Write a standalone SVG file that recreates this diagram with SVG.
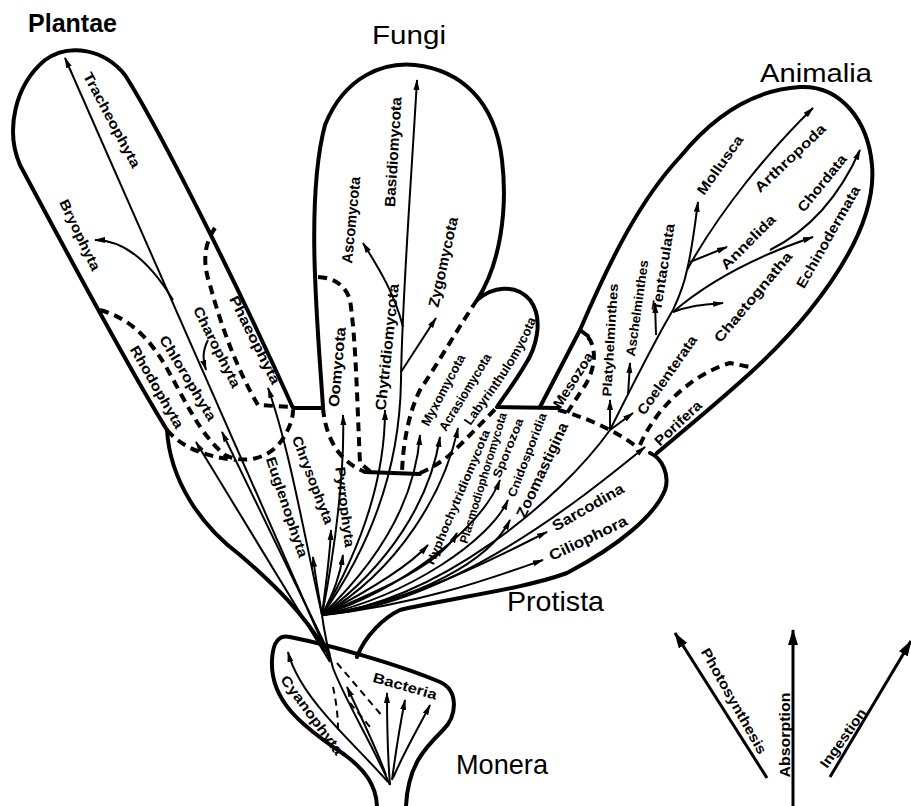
<svg xmlns="http://www.w3.org/2000/svg" width="911" height="806" viewBox="0 0 911 806">
<defs>
<marker id="ah" markerUnits="userSpaceOnUse" markerWidth="11" markerHeight="7" refX="10" refY="3.5" orient="auto">
<path d="M0,0.5 L11,3.5 L0,6.5 z" fill="#000"/>
</marker>
<marker id="ahL" markerUnits="userSpaceOnUse" markerWidth="16" markerHeight="10" refX="15" refY="5" orient="auto">
<path d="M0,0 L16,5 L0,10 z" fill="#000"/>
</marker>
<path id="labyPath" d="M461,432 C485,395 515,365 536,308"/>
<style>
.out{fill:none;stroke:#000;stroke-width:4;stroke-linejoin:round;stroke-linecap:round}
.dash{fill:none;stroke:#000;stroke-width:4;stroke-dasharray:9 6}
.mdash{fill:none;stroke:#000;stroke-width:2;stroke-dasharray:7 5}
.br{fill:none;stroke:#000;stroke-width:2;marker-end:url(#ah)}
.ln{fill:none;stroke:#000;stroke-width:2}
.lg{fill:none;stroke:#000;stroke-width:3;marker-end:url(#ahL)}
.title{font-family:"Liberation Sans",Arial,sans-serif;fill:#000}
.lab{font-family:"Liberation Sans",Arial,sans-serif;font-weight:bold;fill:#000;text-anchor:middle}
</style>
</defs>
<rect width="911" height="806" fill="#fff"/>

<g id="titles">
<text class="title" x="28" y="32" font-size="26" font-weight="bold" textLength="89" lengthAdjust="spacingAndGlyphs">Plantae</text>
<text class="title" x="372" y="44" font-size="26" textLength="74" lengthAdjust="spacingAndGlyphs">Fungi</text>
<text class="title" x="760" y="82" font-size="26" textLength="112" lengthAdjust="spacingAndGlyphs">Animalia</text>
<text class="title" x="507" y="611" font-size="28" textLength="97" lengthAdjust="spacingAndGlyphs">Protista</text>
<text class="title" x="456" y="774" font-size="28" textLength="92" lengthAdjust="spacingAndGlyphs">Monera</text>
</g>

<g id="plantae">
<path class="out" d="M167,430 C130,370 60,240 20,165 C5,130 15,85 45,60 C70,42 105,50 125,75 C160,130 240,290 293,408 L323,408"/>
<path class="dash" d="M215,228 C203,245 203,265 210,285 C222,330 240,375 258,405 L292,407"/>
<path class="dash" d="M100,310 C130,318 150,340 165,365 C185,400 200,435 225,455 C245,465 270,458 282,440 C290,428 293,418 293,410"/>
<path class="dash" d="M167,430 C180,445 200,456 235,460"/>
</g>

<g id="fungi">
<path class="out" d="M323,407 C318,330 305,200 325,125 C345,75 385,62 415,65 C460,70 495,100 502,160 C508,210 500,265 477,300 C492,287 515,283 530,300 C545,320 535,350 525,365 C515,382 505,395 497,407 L558,408"/>
<path class="out" d="M365,472 L420,474"/>
<path class="dash" d="M323,408 C326,440 340,462 365,472"/>
<path class="dash" d="M420,473 C432,468 445,460 455,450 C470,435 485,420 497,407"/>
<path class="dash" d="M318,277 C335,278 345,285 350,300 C356,340 357,400 360,463 L372,473"/>
<path class="dash" d="M477,300 C460,325 440,360 420,390 C410,410 403,440 402,473"/>
</g>

<g id="animalia">
<path class="out" d="M540,407 L580,330 C610,260 640,200 680,157 C710,120 750,90 800,87 C840,85 868,120 872,165 C876,210 850,260 810,310 C770,360 720,400 657,453"/>
<path class="out" d="M580,330 L588,336"/>
<path class="dash" d="M588,337 C598,350 595,372 582,390 L567,413"/>
<path class="dash" d="M558,410 C580,415 615,430 637,447"/>
<path class="dash" d="M640,445 C655,410 690,375 730,363 L750,367"/>
</g>

<g id="protista">
<path class="out" d="M167,430 C170,480 200,525 240,555 C275,585 305,615 325,650"/>
<path class="out" d="M650,453 C662,458 670,475 665,490 C655,515 620,545 567,573 C520,590 450,598 400,610 C385,617 365,635 357,657"/>
</g>

<g id="monera">
<path class="out" d="M377,806 C376,785 365,770 345,755 C300,725 270,700 272,660 C273,640 280,635 290,637 C330,645 400,665 440,682 C458,690 458,715 443,730 C425,748 408,765 406,806"/>
<path class="mdash" d="M337,663 L383,717"/>
<path class="mdash" d="M333,687 C336,700 338,715 338,730"/>
<path class="mdash" d="M350,703 L370,727"/>
</g>

<g id="connectors">
<path class="ln" d="M390,785 C370,740 345,700 333,668 C328,650 324,630 322,615"/>
<path class="br" d="M388,782 C360,750 320,715 300,680 C293,668 290,660 288,652"/>
<path class="br" d="M390,785 C388,760 387,720 387,693"/>
<path class="br" d="M392,780 C396,750 400,725 405,700"/>
<path class="br" d="M393,778 C405,750 420,725 430,705"/>
<path class="br" d="M386,775 C375,745 360,715 347,687"/>
<path class="br" d="M330,660 L65,58"/>
<path class="br" d="M173,300 C150,262 125,240 95,240"/>
<path class="br" d="M330,662 L196,442"/>
<path class="br" d="M330,655 L222,432"/>
<path class="br" d="M322,615 C305,540 290,450 268,388"/>
<path class="br" d="M208,340 C202,352 203,360 206,370"/>
<path class="br" d="M322,615 C318,590 315,575 313,557"/>
<path class="br" d="M322,615 C327,575 330,555 331,530"/>
<path class="br" d="M322,615 C335,590 340,575 343,555"/>
<path class="br" d="M322,615 C335,550 345,470 343,415"/>
<path class="br" d="M322,615 C360,550 385,480 385,410"/>
<path class="br" d="M322,615 C375,540 400,460 401,380 C402,300 410,200 417,80"/>
<path class="br" d="M403,327 C395,295 380,270 363,243"/>
<path class="br" d="M401,372 C412,355 425,335 436,318"/>
<path class="br" d="M322,615 C380,560 415,500 420,435"/>
<path class="br" d="M322,615 C390,565 430,500 440,437"/>
<path class="br" d="M322,615 C400,570 445,490 458,428"/>
<path class="br" d="M322,615 C370,590 410,565 428,545"/>
<path class="br" d="M322,615 C380,590 440,565 457,533"/>
<path class="br" d="M322,615 C400,590 480,530 500,480"/>
<path class="br" d="M322,615 C410,595 490,540 508,500"/>
<path class="br" d="M322,615 C420,600 490,560 510,520"/>
<path class="br" d="M322,615 C420,600 500,555 547,532"/>
<path class="br" d="M322,615 C420,605 500,575 543,560"/>
<path class="br" d="M322,615 C450,605 580,500 645,447"/>
<path class="ln" d="M322,615 C440,600 560,500 610,430"/>
<path class="br" d="M610,430 L610,400"/>
<path class="br" d="M610,430 L633,413"/>
<path class="ln" d="M610,430 C630,390 655,340 673,310 C680,295 685,280 687,270"/>
<path class="br" d="M628,395 L630,363"/>
<path class="br" d="M656,335 L655,303"/>
<path class="br" d="M687,270 C692,250 695,225 698,202"/>
<path class="br" d="M687,270 C720,210 770,150 813,108"/>
<path class="br" d="M690,262 L727,247"/>
<path class="br" d="M673,312 C690,305 705,305 723,303"/>
<path class="br" d="M673,312 C710,280 760,255 813,237"/>
<path class="br" d="M770,250 C810,230 840,195 860,150"/>
</g>

<g id="labels">
<text class="lab" font-size="14" textLength="106" lengthAdjust="spacingAndGlyphs" dy="0.35em" transform="translate(112,120) rotate(62)">Tracheophyta</text>
<text class="lab" font-size="14" textLength="77" lengthAdjust="spacingAndGlyphs" dy="0.35em" transform="translate(80,235) rotate(64.5)">Bryophyta</text>
<text class="lab" font-size="14" textLength="97" lengthAdjust="spacingAndGlyphs" dy="0.35em" transform="translate(255,340) rotate(63.4)">Phaeophyta</text>
<text class="lab" font-size="14" textLength="89" lengthAdjust="spacingAndGlyphs" dy="0.35em" transform="translate(217,347) rotate(63.4)">Charophyta</text>
<text class="lab" font-size="14" textLength="97" lengthAdjust="spacingAndGlyphs" dy="0.35em" transform="translate(188,378) rotate(59)">Chlorophyta</text>
<text class="lab" font-size="14" textLength="93" lengthAdjust="spacingAndGlyphs" dy="0.35em" transform="translate(157,387) rotate(60)">Rhodophyta</text>
<text class="lab" font-size="14" textLength="105" lengthAdjust="spacingAndGlyphs" dy="0.35em" transform="translate(287,507) rotate(71.6)">Euglenophyta</text>
<text class="lab" font-size="14" textLength="93" lengthAdjust="spacingAndGlyphs" dy="0.35em" transform="translate(313,480) rotate(69)">Chrysophyta</text>
<text class="lab" font-size="14" textLength="81" lengthAdjust="spacingAndGlyphs" dy="0.35em" transform="translate(345,507) rotate(83)">Pyrrophyta</text>

<text class="lab" font-size="15" textLength="80" lengthAdjust="spacingAndGlyphs" dy="0.35em" transform="translate(337,367) rotate(-85)">Oomycota</text>
<text class="lab" font-size="15" textLength="87" lengthAdjust="spacingAndGlyphs" dy="0.35em" transform="translate(351,220) rotate(-84.5)">Ascomycota</text>
<text class="lab" font-size="15" textLength="110" lengthAdjust="spacingAndGlyphs" dy="0.35em" transform="translate(393,152) rotate(-86.5)">Basidiomycota</text>
<text class="lab" font-size="15" textLength="127" lengthAdjust="spacingAndGlyphs" dy="0.35em" transform="translate(387,347) rotate(-84)">Chytridiomycota</text>
<text class="lab" font-size="15" textLength="92" lengthAdjust="spacingAndGlyphs" dy="0.35em" transform="translate(443,262) rotate(-77.5)">Zygomycota</text>
<text class="lab" font-size="13" textLength="79" lengthAdjust="spacingAndGlyphs" dy="0.35em" transform="translate(443,390) rotate(-62)">Myxomycota</text>
<text class="lab" font-size="13" textLength="88" lengthAdjust="spacingAndGlyphs" dy="0.35em" transform="translate(465,392) rotate(-58.5)">Acrasiomycota</text>
<text class="lab" font-size="13" dy="0.35em"><textPath href="#labyPath" startOffset="50%" textLength="125" lengthAdjust="spacingAndGlyphs">Labyrinthulomycota</textPath></text>

<text class="lab" font-size="12" textLength="145" lengthAdjust="spacingAndGlyphs" dy="0.35em" transform="translate(458,497) rotate(-67)">Hyphochytridiomycota</text>
<text class="lab" font-size="12" textLength="136" lengthAdjust="spacingAndGlyphs" dy="0.35em" transform="translate(483,478) rotate(-73)">Plasmodiophoromycota</text>
<text class="lab" font-size="12" textLength="63" lengthAdjust="spacingAndGlyphs" dy="0.35em" transform="translate(508,448) rotate(-68)">Sporozoa</text>
<text class="lab" font-size="12" textLength="89" lengthAdjust="spacingAndGlyphs" dy="0.35em" transform="translate(527,455) rotate(-69)">Cnidosporidia</text>
<text class="lab" font-size="15" textLength="103" lengthAdjust="spacingAndGlyphs" dy="0.35em" transform="translate(542,470) rotate(-65)">Zoomastigina</text>
<text class="lab" font-size="15" textLength="80" lengthAdjust="spacingAndGlyphs" dy="0.35em" transform="translate(588,507) rotate(-29.7)">Sarcodina</text>
<text class="lab" font-size="15" textLength="85" lengthAdjust="spacingAndGlyphs" dy="0.35em" transform="translate(588,538) rotate(-25.6)">Ciliophora</text>

<text class="lab" font-size="14" textLength="63" lengthAdjust="spacingAndGlyphs" dy="0.35em" transform="translate(573,380) rotate(-58)">Mesozoa</text>
<text class="lab" font-size="13" textLength="113" lengthAdjust="spacingAndGlyphs" dy="0.35em" transform="translate(610,340) rotate(-86.6)">Platyhelminthes</text>
<text class="lab" font-size="13" textLength="97" lengthAdjust="spacingAndGlyphs" dy="0.35em" transform="translate(637,308) rotate(-82)">Aschelminthes</text>
<text class="lab" font-size="14" textLength="88" lengthAdjust="spacingAndGlyphs" dy="0.35em" transform="translate(663,267) rotate(-81)">Tentaculata</text>
<text class="lab" font-size="14" textLength="93" lengthAdjust="spacingAndGlyphs" dy="0.35em" transform="translate(667,375) rotate(-55)">Coelenterata</text>
<text class="lab" font-size="14" textLength="59" lengthAdjust="spacingAndGlyphs" dy="0.35em" transform="translate(678,423) rotate(-43)">Porifera</text>
<text class="lab" font-size="14" textLength="113" lengthAdjust="spacingAndGlyphs" dy="0.35em" transform="translate(753,297) rotate(-50)">Chaetognatha</text>
<text class="lab" font-size="14" textLength="115" lengthAdjust="spacingAndGlyphs" dy="0.35em" transform="translate(828,237) rotate(-60.5)">Echinodermata</text>
<text class="lab" font-size="14" textLength="71" lengthAdjust="spacingAndGlyphs" dy="0.35em" transform="translate(748,242) rotate(-45)">Annelida</text>
<text class="lab" font-size="14" textLength="69" lengthAdjust="spacingAndGlyphs" dy="0.35em" transform="translate(822,183) rotate(-51)">Chordata</text>
<text class="lab" font-size="14" textLength="69" lengthAdjust="spacingAndGlyphs" dy="0.35em" transform="translate(720,165) rotate(-54.8)">Mollusca</text>
<text class="lab" font-size="14" textLength="92" lengthAdjust="spacingAndGlyphs" dy="0.35em" transform="translate(790,158) rotate(-43.5)">Arthropoda</text>

<text class="lab" font-size="14" textLength="95" lengthAdjust="spacingAndGlyphs" dy="0.35em" transform="translate(312,715) rotate(53.5)">Cyanophyta</text>
<text class="lab" font-size="14" textLength="66" lengthAdjust="spacingAndGlyphs" dy="0.35em" transform="translate(405,686) rotate(15.7)">Bacteria</text>
</g>

<g id="legend">
<path class="lg" d="M767,778 L675,633"/>
<path class="lg" d="M793,806 L793,630"/>
<path class="lg" d="M830,777 L911,641"/>
<text class="lab" font-size="14" textLength="119" lengthAdjust="spacingAndGlyphs" dy="0.35em" transform="translate(734,701) rotate(60.6)">Photosynthesis</text>
<text class="lab" font-size="14" textLength="85" lengthAdjust="spacingAndGlyphs" dy="0.35em" transform="translate(785,735) rotate(-90)">Absorption</text>
<text class="lab" font-size="14" textLength="69" lengthAdjust="spacingAndGlyphs" dy="0.35em" transform="translate(843,738) rotate(-54.8)">Ingestion</text>
</g>
</svg>
